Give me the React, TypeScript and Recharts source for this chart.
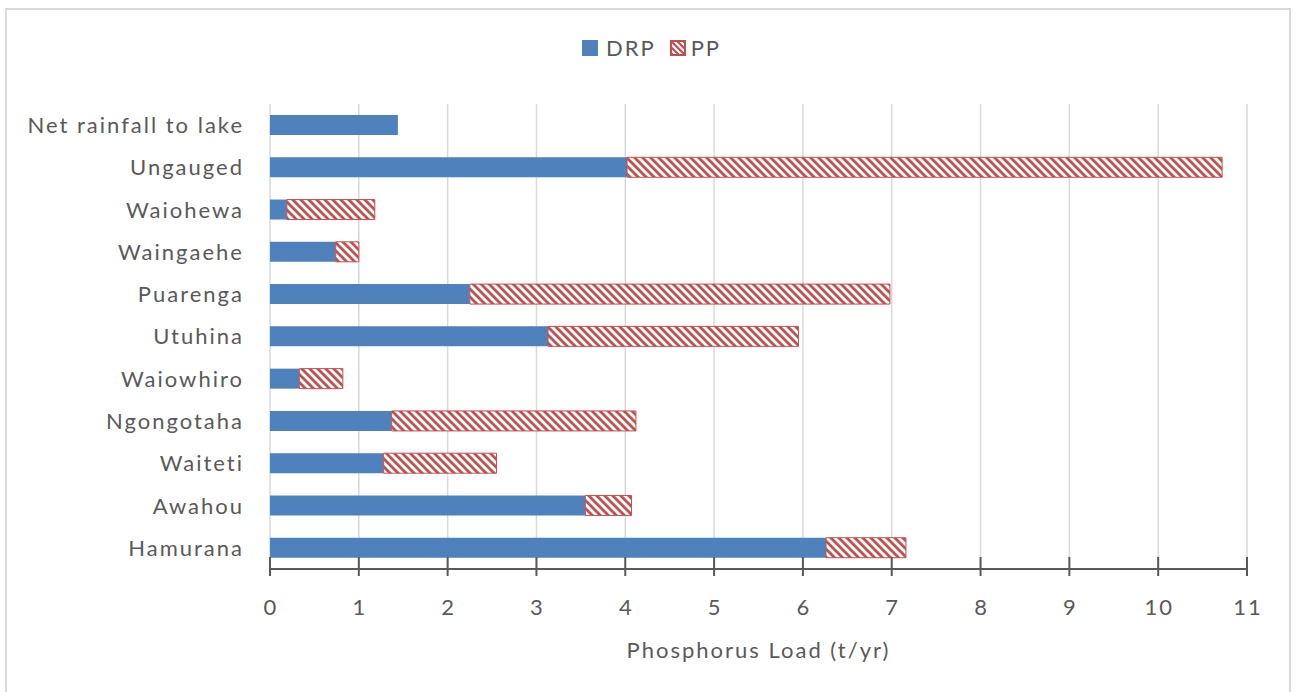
import React from "react";
import { BarChart, Bar, XAxis, YAxis, CartesianGrid, Legend, Label } from "recharts";

const categories = [
  "Net rainfall to lake",
  "Ungauged ",
  "Waiohewa",
  "Waingaehe",
  "Puarenga",
  "Utuhina",
  "Waiowhiro",
  "Ngongotaha",
  "Waiteti",
  "Awahou",
  "Hamurana",
];
const drp = [1.44, 4.02, 0.19, 0.74, 2.25, 3.13, 0.33, 1.37, 1.28, 3.55, 6.26];
const pp = [0, 6.70, 0.99, 0.26, 4.73, 2.82, 0.49, 2.75, 1.27, 0.52, 0.90];
const xTicks = [0, 1, 2, 3, 4, 5, 6, 7, 8, 9, 10, 11];

const data = categories.map((name, i) => ({ name, DRP: drp[i], PP: pp[i] }));

const FONT = "Lato, 'Open Sans', sans-serif";
const FS = 22;
const LS = 2;
const TEXT = "#595959";
const AXIS = "#595959";
const BLUE = "#4F81BD";
const RED = "#C0504D";

const textStyle: React.CSSProperties = { letterSpacing: LS };

const TICK_SIZE = 8;

const XTick = (props: any) => {
  const { x, y, payload } = props;
  const axisY = y - TICK_SIZE;
  return (
    <g>
      <line x1={x} x2={x} y1={axisY - 12} y2={axisY + 7} stroke={AXIS} strokeWidth={2} />
      <text x={x + LS / 2} y={y + 38} textAnchor="middle" fill={TEXT} fontSize={FS} fontFamily={FONT} style={textStyle}>
        {payload.value}
      </text>
    </g>
  );
};

const YTick = (props: any) => {
  const { x, y, payload } = props;
  return (
    <text x={x + LS} y={y} dy="0.36em" textAnchor="end" fill={TEXT} fontSize={FS} fontFamily={FONT} style={textStyle}>
      {payload.value}
    </text>
  );
};

const LegendContent = () => (
  <div
    style={{
      display: "flex",
      justifyContent: "center",
      alignItems: "center",
      fontFamily: FONT,
      fontSize: FS,
      color: TEXT,
      letterSpacing: LS,
      lineHeight: "26px",
      paddingLeft: 7,
    }}
  >
    <span style={{ display: "flex", alignItems: "center", marginRight: 14 }}>
      <svg width={16} height={16} style={{ marginRight: 8 }}>
        <rect width={16} height={16} fill={BLUE} />
      </svg>
      DRP
    </span>
    <span style={{ display: "flex", alignItems: "center" }}>
      <svg width={16} height={16} style={{ marginRight: 5 }}>
        <defs>
          <pattern id="ppLeg" patternUnits="userSpaceOnUse" width="6" height="6">
            <rect width="6" height="6" fill="#fff" />
            <path d="M-1,-1 L7,7 M-1,5 L1,7 M5,-1 L7,1" stroke={RED} strokeWidth={2.2} />
          </pattern>
        </defs>
        <rect x={1} y={1} width={14} height={14} fill="url(#ppLeg)" stroke={RED} strokeWidth={2} />
      </svg>
      PP
    </span>
  </div>
);

export default function App() {
  return (
    <div
      style={{
        position: "fixed",
        left: 5,
        top: 8,
        width: 1282,
        height: 700,
        border: "2px solid #d9d9d9",
        background: "#fff",
      }}
    >
      <BarChart
        width={1282}
        height={677}
        data={data}
        layout="vertical"
        barSize={20}
        margin={{ top: 68, right: 42, bottom: 18, left: 0 }}
      >
        <defs>
          <pattern id="ppFill" patternUnits="userSpaceOnUse" width="8" height="8">
            <rect width="8" height="8" fill="#fff" />
            <path d="M-1,-1 L9,9 M-1,7 L1,9 M7,-1 L9,1" stroke={RED} strokeWidth={2.8} />
          </pattern>
        </defs>
        <CartesianGrid horizontal={false} vertical={true} stroke="#d9d9d9" strokeWidth={1.5} />
        <XAxis
          type="number"
          domain={[0, 11]}
          ticks={xTicks}
          interval={0}
          height={100}
          tickSize={TICK_SIZE}
          tickMargin={0}
          axisLine={{ stroke: AXIS, strokeWidth: 2 }}
          tickLine={false}
          tick={<XTick />}
        >
          <Label
            value="Phosphorus Load (t/yr)"
            position="insideBottom"
            offset={11}
            style={{ fill: TEXT, fontSize: FS, fontFamily: FONT, letterSpacing: LS }}
          />
        </XAxis>
        <YAxis
          type="category"
          dataKey="name"
          width={263}
          axisLine={false}
          tickLine={false}
          tickSize={0}
          tickMargin={28}
          interval={0}
          tick={<YTick />}
        />
        <Legend
          verticalAlign="top"
          align="center"
          content={<LegendContent />}
          wrapperStyle={{ position: "absolute", top: 25, left: 0, width: 1282 }}
        />
        <Bar dataKey="DRP" stackId="a" fill={BLUE} isAnimationActive={false} />
        <Bar dataKey="PP" stackId="a" fill="url(#ppFill)" stroke={RED} strokeWidth={1} isAnimationActive={false} />
      </BarChart>
    </div>
  );
}
